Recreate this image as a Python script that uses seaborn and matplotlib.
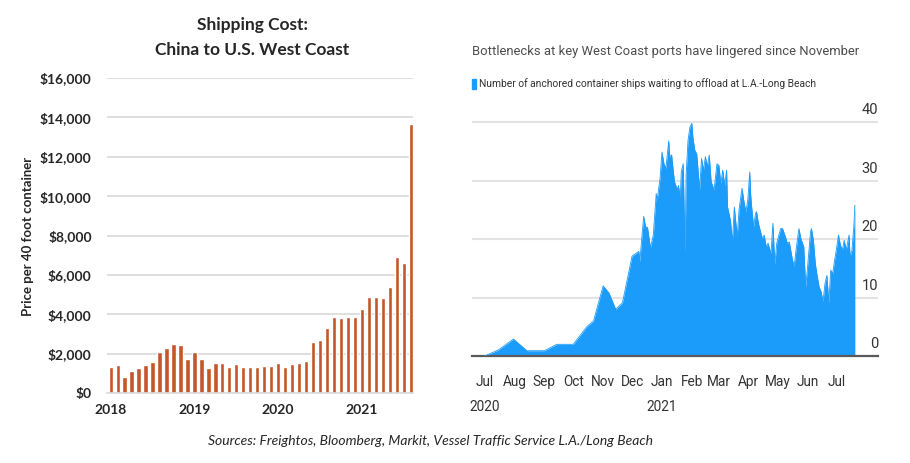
import pandas as pd
import seaborn as sns
import matplotlib.pyplot as plt
import matplotlib.transforms as mtransforms
from matplotlib.patches import Rectangle

# left panel: monthly shipping cost, Jan 2018 .. Aug 2021
cost_months = [d.strftime('%Y-%m') for d in pd.date_range('2018-01-01', periods=44, freq='MS')]
cost_usd = [1340, 1440, 830, 1140, 1290, 1440, 1590, 2100, 2300, 2510, 2460, 1750,
            2100, 1750, 1290, 1540, 1540, 1340, 1490, 1340, 1340, 1340, 1390, 1390,
            1540, 1340, 1490, 1540, 1640, 2610, 2710, 3320, 3880, 3830, 3880, 3880,
            4290, 4900, 4900, 4850, 5360, 6890, 6580, 13670]
year_ticks = [0, 12, 24, 36]
year_labels = ['2018', '2019', '2020', '2021']
cost_ticks = [0, 2000, 4000, 6000, 8000, 10000, 12000, 14000, 16000]

# right panel: anchored container ships at LA / Long Beach
ship_dates = [
    '2020-07-01', '2020-07-15', '2020-07-31', '2020-08-14', '2020-09-01', '2020-09-14',
    '2020-10-01', '2020-10-15', '2020-10-22', '2020-11-01', '2020-11-07', '2020-11-14',
    '2020-11-21', '2020-12-01', '2020-12-08', '2020-12-09', '2020-12-10', '2020-12-13',
    '2020-12-15', '2020-12-17', '2020-12-20', '2020-12-23', '2020-12-26', '2020-12-27',
    '2020-12-30', '2021-01-01', '2021-01-03', '2021-01-05', '2021-01-08', '2021-01-09',
    '2021-01-11', '2021-01-13', '2021-01-14', '2021-01-17', '2021-01-18', '2021-01-20',
    '2021-01-21', '2021-01-23', '2021-01-25', '2021-01-26', '2021-01-28', '2021-01-30',
    '2021-02-01', '2021-02-02', '2021-02-04', '2021-02-06', '2021-02-08', '2021-02-09',
    '2021-02-11', '2021-02-13', '2021-02-15', '2021-02-17', '2021-02-19', '2021-02-21',
    '2021-02-23', '2021-02-24', '2021-02-27', '2021-03-01', '2021-03-03', '2021-03-05',
    '2021-03-07', '2021-03-09', '2021-03-10', '2021-03-13', '2021-03-15', '2021-03-17',
    '2021-03-20', '2021-03-22', '2021-03-25', '2021-03-27', '2021-03-29', '2021-03-31',
    '2021-04-02', '2021-04-03', '2021-04-04', '2021-04-06', '2021-04-08', '2021-04-09',
    '2021-04-11', '2021-04-15', '2021-04-17', '2021-04-19', '2021-04-21', '2021-04-24',
    '2021-04-26', '2021-04-28', '2021-04-30', '2021-05-04', '2021-05-06', '2021-05-09',
    '2021-05-11', '2021-05-13', '2021-05-16', '2021-05-18', '2021-05-20', '2021-05-23',
    '2021-05-25', '2021-05-28', '2021-05-30', '2021-06-01', '2021-06-04', '2021-06-05',
    '2021-06-07', '2021-06-09', '2021-06-11', '2021-06-13', '2021-06-15', '2021-06-17',
    '2021-06-19', '2021-06-21', '2021-06-23', '2021-06-25', '2021-06-27', '2021-06-29',
    '2021-07-01', '2021-07-03', '2021-07-05', '2021-07-07', '2021-07-09', '2021-07-11',
    '2021-07-14', '2021-07-15', '2021-07-17', '2021-07-19', '2021-07-20']
ships_anchored = [
    0, 1.0, 2.9, 0.9, 0.9, 2.0,
    2.0, 5.0, 6.0, 12.0, 10.8, 8.0,
    9.1, 17.1, 17.9, 16.1, 18.1, 23.9,
    22.1, 22.0, 18.5, 20.7, 27.8, 26.7,
    30.4, 34.9, 32.9, 32.1, 36.8, 34.1,
    34.4, 31.2, 29.8, 28.4, 29.2, 27.2,
    31.5, 32.9, 17.5, 30.9, 36.9, 39.2,
    39.8, 37.5, 35.2, 34.6, 30.6, 28.4,
    33.8, 31.8, 34.1, 32.4, 34.4, 29.8,
    28.9, 28.4, 32.9, 32.6, 29.5, 31.8,
    29.2, 31.8, 25.5, 23.2, 19.5, 25.5,
    20.4, 25.2, 28.7, 26.4, 24.7, 26.7,
    31.5, 27.5, 25.5, 22.1, 24.4, 24.7,
    22.7, 20.1, 20.7, 18.7, 19.3, 17.5,
    22.7, 15.6, 19.3, 21.8, 21.8, 20.4,
    19.3, 19.5, 16.7, 15.3, 18.1, 21.8,
    20.1, 18.7, 11.8, 15.3, 21.2, 21.8,
    19.8, 15.8, 13.6, 11.8, 11.0, 9.3,
    12.4, 13.8, 9.1, 14.7, 14.1, 16.4,
    18.4, 20.7, 19.0, 18.1, 19.8, 18.1,
    20.7, 17.0, 18.1, 22.4, 25.8]
month_ticks = pd.date_range('2020-07-01', '2021-07-01', freq='MS')
month_labels = ['Jul\n2020', 'Aug', 'Sep', 'Oct', 'Nov', 'Dec', 'Jan\n2021',
                'Feb', 'Mar', 'Apr', 'May', 'Jun', 'Jul']
ship_ticks = [0, 10, 20, 30, 40]

BAR_COLOR = '#C4572A'
AREA_COLOR = '#1B9BFA'
LEFT_FONT = ['Lato', 'DejaVu Sans']
RIGHT_FONT = ['Roboto', 'Liberation Sans', 'DejaVu Sans']

sns.set_style('white')
plt.rcParams['font.family'] = LEFT_FONT

fig = plt.figure(figsize=(9.1, 4.63), dpi=100)

# ---- left: shipping cost bars ----
ax1 = fig.add_axes([107 / 910, 70 / 463, 306 / 910, 315 / 463])
sns.barplot(x=cost_months, y=cost_usd, color=BAR_COLOR, saturation=1,
            width=0.62, ax=ax1)
ax1.set_xlim(-0.53, 43.33)
ax1.set_ylim(0, 16000)
ax1.set_yticks(cost_ticks)
ax1.set_yticklabels([f'${v:,}' for v in cost_ticks], fontweight='bold', fontsize=10)
ax1.set_xticks(year_ticks)
ax1.set_xticklabels(year_labels, fontweight='bold', fontsize=10)
ax1.tick_params(axis='both', length=0)
ax1.tick_params(axis='y', pad=11)
ax1.tick_params(axis='x', pad=8)
ax1.yaxis.grid(True, color='#d9d9d9', lw=1.2)
ax1.set_axisbelow(True)
for side in ['top', 'left', 'right']:
    ax1.spines[side].set_visible(False)
ax1.spines['bottom'].set_color('#d9d9d9')
ax1.spines['bottom'].set_linewidth(1.2)
ax1.set_xlabel('')
ax1.set_ylabel('')

fig.text(252 / 910, 1 - 25 / 463, 'Shipping Cost:', ha='center', va='center',
         fontsize=12.5, fontweight='bold')
fig.text(252 / 910, 1 - 50 / 463, 'China to U.S. West Coast', ha='center', va='center',
         fontsize=12.5, fontweight='bold')
fig.text(28 / 910, 1 - 236 / 463, 'Price per 40 foot container', rotation=90,
         ha='center', va='center', fontsize=9.5, fontweight='bold')
fig.text(430 / 910, 1 - 441 / 463,
         'Sources: Freightos, Bloomberg, Markit, Vessel Traffic Service L.A./Long Beach',
         ha='center', va='center', fontsize=10, style='italic')

# ---- right: anchored ships area ----
ax2 = fig.add_axes([472 / 910, 107 / 463, 406 / 910, 256 / 463])
dates = pd.to_datetime(ship_dates)
ships = pd.DataFrame({'date': dates, 'ships': ships_anchored})
ax2.fill_between(ships['date'], ships['ships'], 0, color=AREA_COLOR, lw=0, zorder=2)
sns.lineplot(data=ships, x='date', y='ships', color=AREA_COLOR, lw=0.6, ax=ax2, zorder=3)
ax2.set_xlim(pd.Timestamp('2020-06-18'), pd.Timestamp('2021-08-13'))
ax2.set_ylim(0, 43.8)
ax2.set_xticks(month_ticks)
ax2.set_xticklabels(month_labels, family=RIGHT_FONT, fontsize=9.8, color='#333333',
                    linespacing=2.0)
ax2.tick_params(axis='x', length=5, width=1, color='#555555', pad=9)
ax2.set_yticks(ship_ticks[1:])
ax2.set_yticklabels([])
ax2.tick_params(axis='y', length=0)
ax2.yaxis.grid(True, color='#e3e3e3', lw=1.5, zorder=0)
ax2.set_axisbelow(True)
for side in ['top', 'left', 'right']:
    ax2.spines[side].set_visible(False)
ax2.spines['bottom'].set_color('#5a5a5a')
ax2.spines['bottom'].set_linewidth(1.6)
ax2.set_xlabel('')
ax2.set_ylabel('')

trans = mtransforms.blended_transform_factory(ax2.transAxes, ax2.transData)
offset = mtransforms.offset_copy(trans, fig=fig, x=0, y=12, units='dots')
for v in ship_ticks:
    ax2.text(1.0, v, str(v), transform=offset, ha='right', va='center',
             family=RIGHT_FONT, fontsize=10.5, color='#333333')

fig.text(472 / 910, 1 - 52 / 463,
         'Bottlenecks at key West Coast ports have lingered since November',
         ha='left', va='center', family=RIGHT_FONT, fontsize=9.4, color='#4d4d4d')
fig.patches.append(Rectangle((472 / 910, 1 - 89 / 463), 4 / 910, 10 / 463,
                             transform=fig.transFigure, color=AREA_COLOR))
fig.text(479 / 910, 1 - 84 / 463,
         'Number of anchored container ships waiting to offload at L.A.-Long Beach',
         ha='left', va='center', family=RIGHT_FONT, fontsize=7.4, color='#333333')

fig.savefig('out.png', dpi=100)
